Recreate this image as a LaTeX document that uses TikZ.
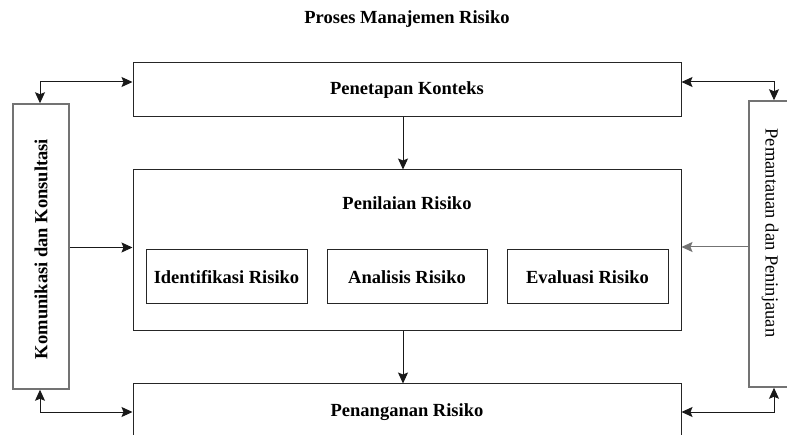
\documentclass[tikz,border=0pt]{standalone}
\usepackage{fontspec}
\setmainfont{Liberation Serif}
\usetikzlibrary{arrows.meta,positioning}

\def\pagearea{(0,0) rectangle (787,-435)}

\begin{document}
\begin{tikzpicture}[x=1pt,y=1pt,
    font=\fontsize{18.5}{22}\selectfont\bfseries,
    box/.style={draw=black!85, line width=1pt, rectangle, inner sep=0pt},
    sidebox/.style={draw=black!55, line width=1.5pt, rectangle, inner sep=0pt},
    link/.style={draw=black!90, line width=1pt, -{Stealth[length=11pt,width=10pt,inset=2pt]}},
    twolink/.style={draw=black!90, line width=1pt, {Stealth[length=11pt,width=10pt,inset=2pt]}-{Stealth[length=11pt,width=10pt,inset=2pt]}}]
    \useasboundingbox \pagearea;
    \clip \pagearea;
    \fill[white] \pagearea;

    \node (title) at (407,-19) {Proses Manajemen Risiko};

    \node[box, minimum width=548pt, minimum height=54pt] (ctx) at (407,-90) {Penetapan Konteks};
    \node[box, minimum width=548pt, minimum height=161pt] (nilai) at (407,-250.5) {};
    \node (nilaitxt) at (407,-203) {Penilaian Risiko};
    \node[box, minimum width=161pt, minimum height=54pt] (ident) at (226.5,-277) {Identifikasi Risiko};
    \node[box, minimum width=160pt, minimum height=54pt] (anal) at (407,-277) {Analisis Risiko};
    \node[box, minimum width=161pt, minimum height=54pt] (eval) at (587.5,-277) {Evaluasi Risiko};
    \node[box, minimum width=548pt, minimum height=64pt] (tangani) at (407,-416) {};
    \node (tanganitxt) at (407,-412) {Penanganan Risiko};

    \node[sidebox, minimum width=56pt, minimum height=285pt] (kom) at (41,-246.5) {};
    \node[rotate=90] (komtxt) at (41,-249) {Komunikasi dan Konsultasi};
    \node[sidebox, minimum width=44pt, minimum height=286pt] (pantau) at (771,-244) {};
    \node[rotate=-90, font=\fontsize{18.5}{22}\selectfont] (pantautxt) at (770,-233) {Pemantauan dan Peninjauan};

    \draw[link] ([xshift=-4pt]ctx.south) -- ([xshift=-4pt]nilai.north);
    \draw[link] ([xshift=-4pt]nilai.south) -- ([xshift=-4pt]tangani.north);
    \draw[link] ([yshift=-1pt]kom.east) -- ([yshift=-1pt]kom.east -| nilai.west);
    \draw[link, draw=black!55] ([yshift=-3pt]pantau.west) -- ([yshift=-3pt]pantau.west -| nilai.east);

    \draw[twolink] ([xshift=-1pt]kom.north) |- ([yshift=8pt]ctx.west);
    \draw[twolink] ([yshift=8pt]ctx.east) -| ([xshift=3pt]pantau.north);
    \draw[twolink] ([xshift=-1pt]kom.south) |- ([yshift=4pt]tangani.west);
    \draw[twolink] ([yshift=4pt]tangani.east) -| ([xshift=3pt]pantau.south);
\end{tikzpicture}
\end{document}
